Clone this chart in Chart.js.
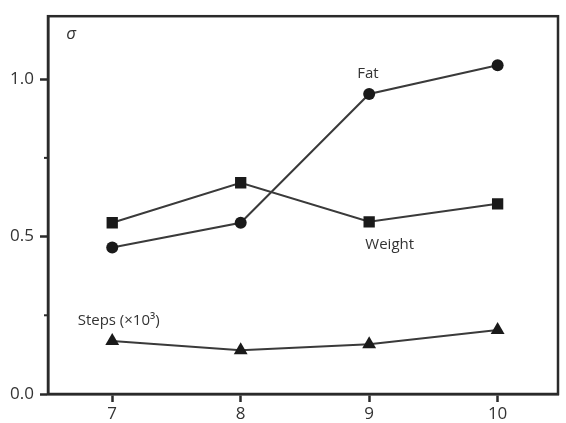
<!DOCTYPE html>
<html>
<head>
<meta charset="utf-8">
<script src="https://cdn.jsdelivr.net/npm/chart.js@4"></script>
<style>
  body { margin: 0; background: #fff; }
  #wrap { width: 566px; height: 423px; }
</style>
</head>
<body>
<div id="wrap"><canvas id="sigmaChart" width="566" height="423"></canvas></div>
<script>
let weeks = [7, 8, 9, 10];
let fat = [0.465, 0.544, 0.953, 1.044];
let weight = [0.544, 0.671, 0.547, 0.604];
let steps = [0.168, 0.139, 0.158, 0.203];
let yLabels = [0, 0.5, 1.0];
let yMinor = [0.25, 0.75];

let ink = '#2a2a2a';
let font = 'Open Sans';

function pts(vals) {
  return weeks.map((w, i) => ({ x: w, y: vals[i] }));
}

function series(label, vals, style, r) {
  return {
    label: label,
    data: pts(vals),
    showLine: true,
    borderColor: '#3a3a3a',
    borderWidth: 2,
    backgroundColor: '#1a1a1a',
    pointBackgroundColor: '#1a1a1a',
    pointBorderColor: '#1a1a1a',
    pointBorderWidth: 0,
    pointStyle: style,
    pointRadius: r,
  };
}

// frame, minor ticks and series labels
let extras = {
  id: 'extras',
  afterDraw(chart) {
    let ctx = chart.ctx;
    let a = chart.chartArea;
    let xs = chart.scales.x;
    let ys = chart.scales.y;
    ctx.save();
    ctx.strokeStyle = ink;
    ctx.lineWidth = 2.5;
    ctx.strokeRect(a.left, a.top, a.right - a.left, a.bottom - a.top);
    ctx.lineWidth = 2;
    yMinor.forEach(v => {
      let py = ys.getPixelForValue(v);
      ctx.beginPath();
      ctx.moveTo(a.left - 4, py);
      ctx.lineTo(a.left, py);
      ctx.stroke();
    });
    ctx.fillStyle = '#333';
    ctx.textAlign = 'center';
    ctx.textBaseline = 'middle';
    ctx.font = '15px "' + font + '"';
    ctx.fillText('Fat', xs.getPixelForValue(8.99), ys.getPixelForValue(1.016));
    ctx.fillText('Weight', xs.getPixelForValue(9.16), ys.getPixelForValue(0.475));
    ctx.fillText('Steps (×10³)', xs.getPixelForValue(7.05), ys.getPixelForValue(0.234));
    ctx.font = 'italic 17px "' + font + '"';
    ctx.fillText('σ', xs.getPixelForValue(6.68), ys.getPixelForValue(1.142));
    ctx.restore();
  }
};

let sigmaChart = new Chart(document.getElementById('sigmaChart'), {
  type: 'scatter',
  data: {
    datasets: [
      series('Fat', fat, 'circle', 6),
      series('Weight', weight, 'rect', 8),
      series('Steps (×10³)', steps, 'triangle', 8),
    ],
  },
  options: {
    responsive: false,
    animation: false,
    layout: { padding: { top: 14, right: 3, left: 0, bottom: 0 } },
    plugins: { legend: { display: false }, tooltip: { enabled: false } },
    scales: {
      x: {
        type: 'linear',
        min: 6.5,
        max: 10.47,
        afterBuildTicks: s => { s.ticks = weeks.map(v => ({ value: v })); },
        afterFit: s => { s.height = 29; },
        grid: { drawOnChartArea: false, tickLength: 8, tickWidth: 2.5, tickColor: ink },
        border: { display: true, color: ink, width: 2.5 },
        ticks: { color: '#333', font: { family: font, size: 17 }, padding: 2 },
      },
      y: {
        min: 0,
        max: 1.2,
        afterBuildTicks: s => { s.ticks = yLabels.map(v => ({ value: v })); },
        afterFit: s => { s.width = 48; },
        grid: { drawOnChartArea: false, tickLength: 8, tickWidth: 2.5, tickColor: ink },
        border: { display: true, color: ink, width: 2.5 },
        ticks: {
          color: '#333',
          font: { family: font, size: 17 },
          padding: 6,
          callback: v => v.toFixed(1),
        },
      },
    },
  },
  plugins: [extras],
});
</script>
</body>
</html>
